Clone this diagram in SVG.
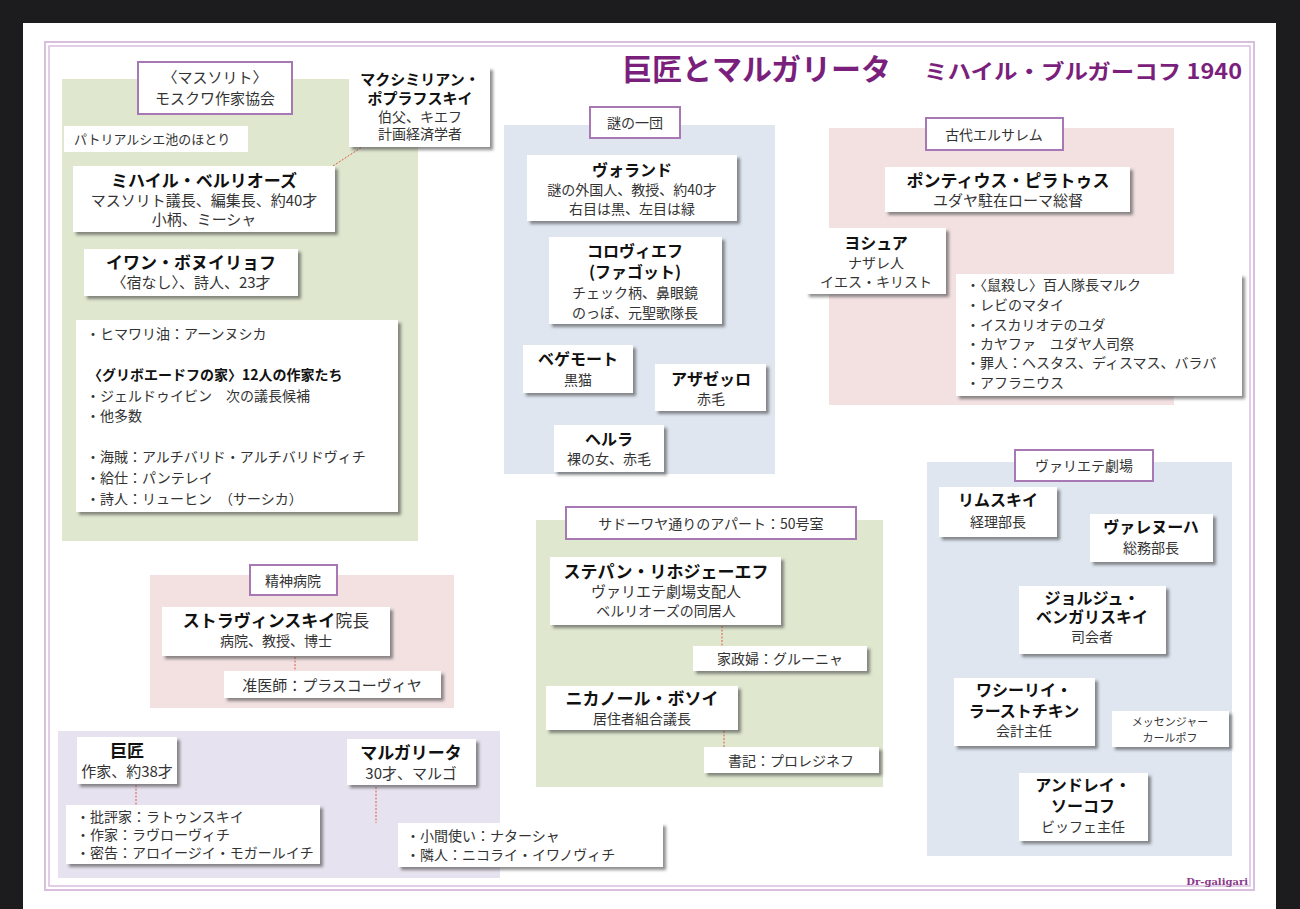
<svg xmlns="http://www.w3.org/2000/svg" width="1300" height="909" viewBox="0 0 1300 909">
<style>
text{font-family:"Noto Sans CJK JP","Noto Sans",sans-serif;fill:#333}
.b{font-weight:bold;fill:#111;font-size:16px}
.s{font-size:14px}
.m{text-anchor:middle}
.box{fill:#fff;filter:url(#sh)}
.lab{fill:#fff;stroke:#a878b4;stroke-width:2}
.con{stroke:#e05a40;stroke-width:1;stroke-dasharray:2 1.5;fill:none}
.g{fill:#dfe7cf}.bl{fill:#dfe6f0}.pk{fill:#f3e1e2}.lv{fill:#e7e2ef}
</style>
<defs>
<filter id="sh" x="-10%" y="-10%" width="130%" height="140%">
<feDropShadow dx="3" dy="3" stdDeviation="1.5" flood-color="#444" flood-opacity="0.6"/>
</filter>
</defs>
<rect width="1300" height="909" fill="#1c1c1e"/>
<rect x="23" y="23" width="1253" height="886" fill="#fff"/>
<rect x="45" y="42" width="1209" height="848" fill="none" stroke="#d9bedf" stroke-width="2"/>
<rect x="49" y="46" width="1201" height="840" fill="none" stroke="#d9bedf" stroke-width="1.5"/>
<text x="622" y="80" style="font-size:30px;font-weight:bold;fill:#7b1f7c">巨匠とマルガリータ</text>
<text x="924" y="79" textLength="318" lengthAdjust="spacingAndGlyphs" style="font-size:21px;font-weight:bold;fill:#7b1f7c">ミハイル・ブルガーコフ 1940</text>
<text x="1248" y="885" text-anchor="end" style="font-family:'DejaVu Serif',serif;font-size:10px;font-weight:bold;fill:#8a3a8a">Dr-galigari</text>

<g id="groups">
<rect x="62" y="79" width="356" height="462" class="g"/>
<rect x="504" y="125" width="271" height="349" class="bl"/>
<rect x="829" y="128" width="345" height="277" class="pk"/>
<rect x="927" y="462" width="305" height="394" class="bl"/>
<rect x="536" y="520" width="347" height="267" class="g"/>
<rect x="150" y="575" width="304" height="133" class="pk"/>
<rect x="58" y="731" width="442" height="147" class="lv"/>
</g>

<g id="connectors">
<line x1="333" y1="166" x2="362" y2="147" class="con"/>
<line x1="722" y1="626" x2="722" y2="646" class="con"/>
<line x1="724" y1="731" x2="724" y2="747" class="con"/>
<line x1="295" y1="657" x2="295" y2="671" class="con"/>
<line x1="136" y1="785" x2="136" y2="805" class="con"/>
<line x1="376" y1="787" x2="376" y2="823" class="con"/>
</g>

<g id="masorit-label"><rect x="138" y="62" width="154" height="52" class="lab"/>
<text x="215" y="83" class="s m" style="font-size:15px">〈マスソリト〉</text>
<text x="215" y="104" class="s m" style="font-size:15px">モスクワ作家協会</text></g>
<g id="patriarch"><rect x="64" y="126" width="184" height="26" fill="#fff"/>
<text x="74" y="144" style="font-size:13px">パトリアルシエ池のほとり</text></g>
<g id="poplavsky"><rect x="349" y="67" width="141" height="80" class="box"/>
<text x="420" y="85" class="b m" style="font-size:15px">マクシミリアン・</text>
<text x="420" y="104" class="b m" style="font-size:15px">ポプラフスキイ</text>
<text x="420" y="122" class="s m">伯父、キエフ</text>
<text x="420" y="139" class="s m">計画経済学者</text></g>
<g id="berlioz"><rect x="73" y="166" width="262" height="66" class="box"/>
<text x="204" y="187" class="b m" style="font-size:17px">ミハイル・ベルリオーズ</text>
<text x="204" y="206" class="s m" style="font-size:15px">マスソリト議長、編集長、約40才</text>
<text x="204" y="225" class="s m" style="font-size:15px">小柄、ミーシャ</text></g>
<g id="ivan"><rect x="84" y="249" width="214" height="47" class="box"/>
<text x="191" y="269" class="b m" style="font-size:17px">イワン・ボヌイリョフ</text>
<text x="191" y="288" class="s m" style="font-size:15px">〈宿なし〉、詩人、23才</text></g>
<g id="writers-list"><rect x="76" y="320" width="322" height="192" class="box"/>
<text x="86" y="339" class="s">・ヒマワリ油：アーンヌシカ</text>
<text x="88" y="380" class="b" style="font-size:14px">〈グリボエードフの家〉12人の作家たち</text>
<text x="86" y="401" class="s">・ジェルドゥイビン　次の議長候補</text>
<text x="86" y="421" class="s">・他多数</text>
<text x="86" y="462" class="s">・海賊：アルチバリド・アルチバリドヴィチ</text>
<text x="86" y="483" class="s">・給仕：パンテレイ</text>
<text x="86" y="504" class="s">・詩人：リューヒン　（サーシカ）</text></g>

<g id="nazo-label"><rect x="590" y="107" width="90" height="31" class="lab"/>
<text x="635" y="128" class="s m">謎の一団</text></g>
<g id="woland"><rect x="527" y="155" width="210" height="66" class="box"/>
<text x="632" y="176" class="b m">ヴォランド</text>
<text x="632" y="195" class="s m">謎の外国人、教授、約40才</text>
<text x="632" y="214" class="s m">右目は黒、左目は緑</text></g>
<g id="koroviev"><rect x="549" y="237" width="173" height="87" class="box"/>
<text x="635" y="257" class="b m">コロヴィエフ</text>
<text x="635" y="278" class="b m">(ファゴット)</text>
<text x="635" y="298" class="s m">チェック柄、鼻眼鏡</text>
<text x="635" y="318" class="s m">のっぽ、元聖歌隊長</text></g>
<g id="behemoth"><rect x="523" y="345" width="110" height="48" class="box"/>
<text x="578" y="365" class="b m">ベゲモート</text>
<text x="578" y="385" class="s m">黒猫</text></g>
<g id="azazello"><rect x="655" y="364" width="111" height="47" class="box"/>
<text x="711" y="385" class="b m">アザゼッロ</text>
<text x="711" y="404" class="s m">赤毛</text></g>
<g id="hella"><rect x="554" y="425" width="110" height="47" class="box"/>
<text x="609" y="445" class="b m">ヘルラ</text>
<text x="609" y="464" class="s m">裸の女、赤毛</text></g>

<g id="jerusalem-label"><rect x="926" y="118" width="137" height="32" class="lab"/>
<text x="994" y="140" class="s m">古代エルサレム</text></g>
<g id="pilate"><rect x="885" y="167" width="245" height="45" class="box"/>
<text x="1008" y="187" class="b m" style="font-size:17px">ポンティウス・ピラトゥス</text>
<text x="1008" y="206" class="s m" style="font-size:15px">ユダヤ駐在ローマ総督</text></g>
<g id="yeshua"><rect x="806" y="228" width="140" height="66" class="box"/>
<text x="876" y="249" class="b m">ヨシュア</text>
<text x="876" y="268" class="s m">ナザレ人</text>
<text x="876" y="287" class="s m">イエス・キリスト</text></g>
<g id="jerusalem-list"><rect x="956" y="274" width="286" height="122" class="box"/>
<text x="966" y="290" class="s">・〈鼠殺し〉百人隊長マルク</text>
<text x="966" y="310" class="s">・レビのマタイ</text>
<text x="966" y="330" class="s">・イスカリオテのユダ</text>
<text x="966" y="349" class="s">・カヤファ　ユダヤ人司祭</text>
<text x="966" y="368" class="s">・罪人：ヘスタス、ディスマス、バラバ</text>
<text x="966" y="388" class="s">・アフラニウス</text></g>

<g id="variete-label"><rect x="1015" y="450" width="138" height="31" class="lab"/>
<text x="1084" y="471" class="s m">ヴァリエテ劇場</text></g>
<g id="rimsky"><rect x="939" y="487" width="118" height="50" class="box"/>
<text x="998" y="506" class="b m">リムスキイ</text>
<text x="998" y="527" class="s m">経理部長</text></g>
<g id="varenukha"><rect x="1090" y="514" width="123" height="48" class="box"/>
<text x="1151" y="533" class="b m">ヴァレヌーハ</text>
<text x="1151" y="553" class="s m">総務部長</text></g>
<g id="bengalsky"><rect x="1019" y="586" width="147" height="68" class="box"/>
<text x="1092" y="604" class="b m">ジョルジュ・</text>
<text x="1092" y="623" class="b m">ベンガリスキイ</text>
<text x="1092" y="642" class="s m">司会者</text></g>
<g id="lastochkin"><rect x="954" y="678" width="141" height="68" class="box"/>
<text x="1024" y="696" class="b m">ワシーリイ・</text>
<text x="1024" y="717" class="b m">ラーストチキン</text>
<text x="1024" y="736" class="s m">会計主任</text></g>
<g id="karpov"><rect x="1112" y="711" width="117" height="36" class="box"/>
<text x="1170" y="726" class="m" style="font-size:11px">メッセンジャー</text>
<text x="1170" y="742" class="m" style="font-size:11px">カールポフ</text></g>
<g id="sokov"><rect x="1019" y="773" width="129" height="68" class="box"/>
<text x="1083" y="791" class="b m">アンドレイ・</text>
<text x="1083" y="812" class="b m">ソーコフ</text>
<text x="1083" y="832" class="s m">ビッフェ主任</text></g>

<g id="sadovaya-label"><rect x="566" y="507" width="290" height="32" class="lab"/>
<text x="711" y="529" class="s m">サドーワヤ通りのアパート：50号室</text></g>
<g id="stepan"><rect x="550" y="557" width="231" height="68" class="box"/>
<text x="666" y="578" class="b m" style="font-size:17px">ステパン・リホジェーエフ</text>
<text x="666" y="597" class="s m" style="font-size:15px">ヴァリエテ劇場支配人</text>
<text x="666" y="616" class="s m">ベルリオーズの同居人</text></g>
<g id="grunya"><rect x="693" y="646" width="174" height="25" class="box"/>
<text x="780" y="664" class="s m">家政婦：グルーニャ</text></g>
<g id="nikanor"><rect x="546" y="686" width="192" height="44" class="box"/>
<text x="642" y="705" class="b m" style="font-size:17px">ニカノール・ボソイ</text>
<text x="642" y="724" class="s m">居住者組合議長</text></g>
<g id="prolezhnev"><rect x="704" y="747" width="175" height="26" class="box"/>
<text x="791" y="766" class="s m">書記：プロレジネフ</text></g>

<g id="hospital-label"><rect x="250" y="565" width="87" height="30" class="lab"/>
<text x="293" y="586" class="s m">精神病院</text></g>
<g id="stravinsky"><rect x="162" y="607" width="228" height="49" class="box"/>
<text x="276" y="627" class="m" style="font-size:17px"><tspan font-weight="bold" fill="#111">ストラヴィンスキイ</tspan>院長</text>
<text x="276" y="646" class="s m">病院、教授、博士</text></g>
<g id="praskovya"><rect x="224" y="671" width="217" height="27" class="box"/>
<text x="332" y="691" class="s m" style="font-size:15px">准医師：プラスコーヴィヤ</text></g>

<g id="master"><rect x="77" y="737" width="100" height="47" class="box"/>
<text x="127" y="757" class="b m" style="font-size:17px">巨匠</text>
<text x="127" y="777" class="s m" style="font-size:15px">作家、約38才</text></g>
<g id="margarita"><rect x="347" y="739" width="129" height="46" class="box"/>
<text x="411" y="759" class="b m" style="font-size:17px">マルガリータ</text>
<text x="411" y="779" class="s m" style="font-size:15px">30才、マルゴ</text></g>
<g id="master-list"><rect x="66" y="805" width="254" height="59" class="box"/>
<text x="76" y="822" class="s">・批評家：ラトゥンスキイ</text>
<text x="76" y="840" class="s">・作家：ラヴローヴィチ</text>
<text x="76" y="858" class="s">・密告：アロイージイ・モガールイチ</text></g>
<g id="margarita-list"><rect x="398" y="823" width="265" height="44" class="box"/>
<text x="406" y="841" class="s">・小間使い：ナターシャ</text>
<text x="406" y="860" class="s">・隣人：ニコライ・イワノヴィチ</text></g>
</svg>
